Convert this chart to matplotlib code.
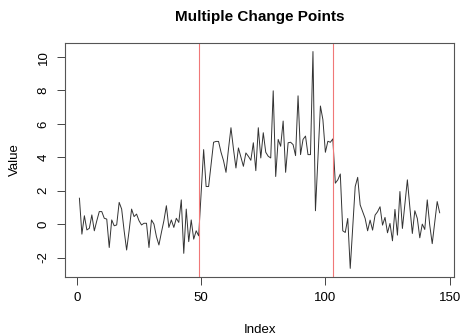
import numpy as np
import matplotlib
matplotlib.use("Agg")
import matplotlib.pyplot as plt

# series (index 1..146)
seg1 = [1.55, -0.6, 0.5, -0.35, -0.25, 0.55, -0.4, 0.2, 0.75, 0.75,
        0.35, 0.3, -1.4, 0.25, -0.1, -0.05, 1.3, 0.9, -0.4, -1.55,
        -0.4, 0.9, 0.45, 0.6, 0.2, -0.05, 0.05, 0.05, -1.4, 0.25,
        0.0, -0.75, -1.25, -0.5, 0.2, 1.1, -0.2, 0.25, -0.2, 0.35,
        0.1, 1.45, -1.75, 0.9, -1.05, 0.25, -0.9, -0.4, -0.7]
seg2 = [1.9, 4.46, 2.25, 2.25, 3.6, 4.9, 4.95, 4.95, 4.3, 3.8,
        3.1, 4.5, 5.77, 4.5, 3.36, 4.56, 4.0, 3.46, 4.26, 4.06,
        3.82, 4.87, 3.2, 5.77, 3.96, 5.47, 4.3, 4.06, 3.96, 7.98,
        2.85, 5.07, 4.66, 6.17, 3.1, 4.87, 4.9, 4.76, 4.1, 7.68,
        4.16, 5.07, 5.27, 4.16, 4.16, 10.33, 0.8, 4.0, 7.07, 6.25,
        4.3, 4.96, 4.9, 5.1]
seg3 = [2.45, 2.65, 3.0, -0.4, -0.5, 0.34, -2.65, -0.2, 2.25, 2.8,
        1.15, 0.74, 0.34, -0.4, 0.24, -0.36, 0.54, 0.74, 1.04, -0.06,
        0.4, -0.52, 0.04, -1.0, 0.88, -0.66, 1.95, -0.26, 1.2, 2.65,
        1.0, -0.56, 0.8, 0.34, -0.82, 0.0, -0.32, 1.45, -0.06, -1.17,
        0.1, 1.35, 0.68]
values = np.array(seg1 + seg2 + seg3)
index = np.arange(1, len(values) + 1)
change_points = [49, 103]

xticks = [0, 50, 100, 150]
yticks = [-2, 0, 2, 4, 6, 8, 10]

plt.rcParams['font.family'] = ['Liberation Sans', 'DejaVu Sans']

fig = plt.figure(figsize=(4.61, 3.35), dpi=100)
ax = fig.add_axes([0.141, 0.173, 0.844, 0.699])

ax.plot(index, values, color='#333333', lw=0.7)
for cp in change_points:
    ax.axvline(cp, color='#f07878', lw=0.8)

# R-style 4% padding
xr = index.max() - index.min()
ax.set_xlim(index.min() - 0.04 * xr, index.max() + 0.04 * xr)
yr = values.max() - values.min()
ax.set_ylim(values.min() - 0.04 * yr, values.max() + 0.04 * yr)

ax.set_xticks(xticks)
ax.set_yticks(yticks)
ax.set_yticklabels([str(t) for t in yticks], rotation=90, va='center')
ax.tick_params(direction='out', length=6, width=0.7, color='#444444',
               labelsize=9.5, pad=5)
for s in ax.spines.values():
    s.set_color('#555555')
    s.set_linewidth(0.8)

ax.set_title('Multiple Change Points', fontsize=11, fontweight='bold', pad=16)
ax.set_xlabel('Index', fontsize=9.5, labelpad=14)
ax.set_ylabel('Value', fontsize=9.5, labelpad=12)

fig.savefig('out.png', dpi=100)
